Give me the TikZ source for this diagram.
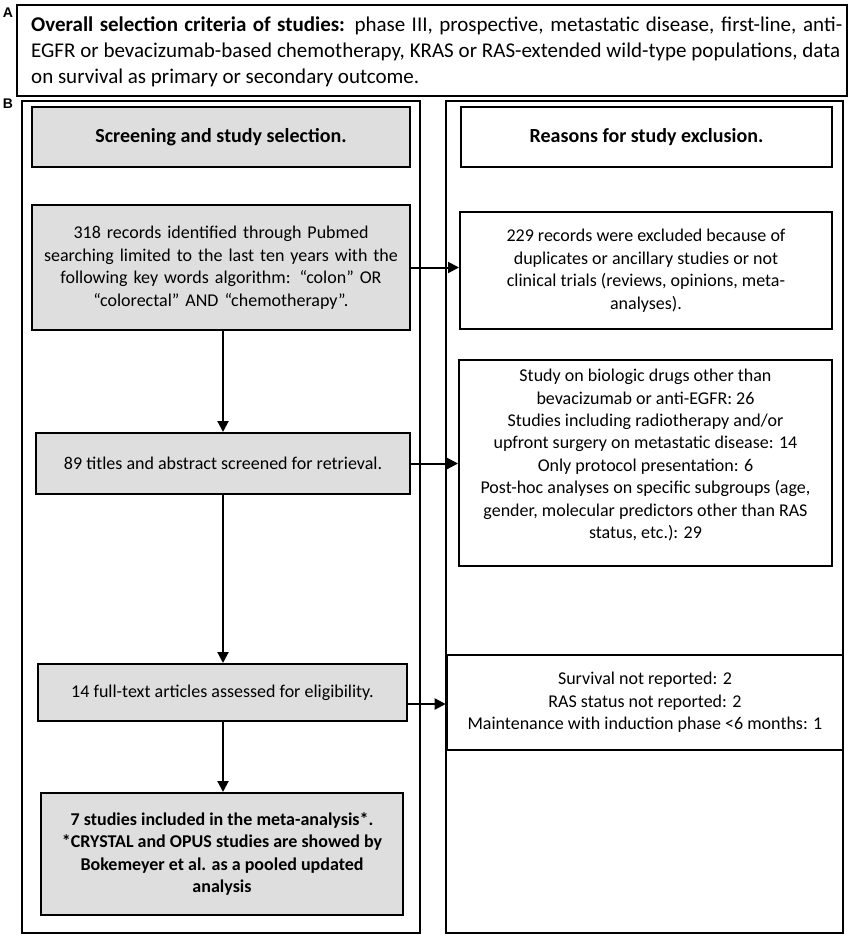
\documentclass[tikz,border=0pt]{standalone}
\usepackage{fontspec}
\setmainfont{Carlito}
\newfontfamily\labfont{Liberation Sans}
\usetikzlibrary{arrows.meta}
\definecolor{boxgray}{RGB}{222,222,222}
\begin{document}
\begin{tikzpicture}[x=1pt,y=-1pt,
  bx/.style={draw, line width=2pt, inner sep=0pt, align=center,
             font=\fontsize{18}{22.5}\selectfont},
  gbox/.style={bx, fill=boxgray},
  hfont/.style={font=\fontsize{20}{24}\selectfont\bfseries},
  arr/.style={line width=2pt, -{Triangle[length=11pt,width=11pt]}},
  plab/.style={font=\labfont\bfseries\fontsize{14}{16}\selectfont}]
\useasboundingbox (0,0) rectangle (852,938);

% panel labels
\node[plab] (labA) at (8,13) {A};
\node[plab] (labB) at (8,104) {B};

% box A
\node[bx, minimum width=830pt, minimum height=91pt] (boxA) at (432,50.5) {};
\node[anchor=west, align=left, inner sep=0pt, font=\fontsize{21}{26}\selectfont] (txtA) at (31,52)
 {\hbox to 811pt{\textbf{Overall selection criteria of studies:} phase III, prospective, metastatic disease, first-line, anti-}\\
  \hbox to 809pt{EGFR or bevacizumab-based chemotherapy, KRAS or RAS-extended wild-type populations, data}\\
  on survival as primary or secondary outcome.};

% column frames
\node[bx, minimum width=398pt, minimum height=832pt] (colL) at (221,517) {};
\node[bx, minimum width=397pt, minimum height=832pt] (colR) at (644.5,517) {};

% headers
\node[gbox, hfont, minimum width=378pt, minimum height=60pt] (hL) at (221,137) {Screening and study selection.};
\node[bx, hfont, minimum width=371pt, minimum height=60pt] (hR) at (646.5,137) {Reasons for study exclusion.};

% left column
\node[gbox, minimum width=378pt, minimum height=125pt, text width=360pt] (b1) at (221,267.5)
 {318 records identified through Pubmed\\searching limited to the last ten years with the\\following key words algorithm: “colon” OR\\“colorectal” AND “chemotherapy”.};
\node[gbox, minimum width=374pt, minimum height=61pt] (b2) at (223,463.5)
 {89 titles and abstract screened for retrieval.};
\node[gbox, minimum width=369pt, minimum height=57pt] (b3) at (222.5,692.5)
 {14 full-text articles assessed for eligibility.};
\node[gbox, minimum width=362pt, minimum height=122pt, font=\fontsize{18}{22.3}\selectfont\bfseries] (b4) at (222,854)
 {7 studies included in the meta-analysis*.\\*CRYSTAL and OPUS studies are showed by\\Bokemeyer et al. as a pooled updated\\analysis};

% right column
\node[bx, minimum width=372pt, minimum height=117pt] (r1) at (646,270.5)
 {229 records were excluded because of\\duplicates or ancillary studies or not\\clinical trials (reviews, opinions, meta-\\analyses).};
\node[bx, minimum width=373pt, minimum height=206pt] (r2) at (645.5,463) {};
\node[align=center, inner sep=0pt, font=\fontsize{18}{22.4}\selectfont] (r2t) at (645.5,455)
 {Study on biologic drugs other than\\bevacizumab or anti-EGFR: 26\\Studies including radiotherapy and/or\\upfront surgery on metastatic disease: 14\\Only protocol presentation: 6\\Post-hoc analyses on specific subgroups (age,\\gender, molecular predictors other than RAS\\status, etc.): 29};
\node[bx, minimum width=396pt, minimum height=95pt, line width=2.6pt] (r3) at (645,702.5)
 {Survival not reported: 2\\RAS status not reported: 2\\Maintenance with induction phase <6 months: 1};

% connectors
\draw[arr] (b1.east) -- (b1.east -| r1.west);
\draw[arr] (b2.east) -- (b2.east -| r2.west);
\coordinate (a3) at (407,704);
\draw[arr] (a3) -- (a3 -| r3.west);
\draw[arr] (b2.north |- b1.south) -- (b2.north);
\draw[arr] (b2.south) -- (b2.south |- b3.north);
\draw[arr] (b2.south |- b3.south) -- (b2.south |- b4.north);
\end{tikzpicture}
\end{document}
